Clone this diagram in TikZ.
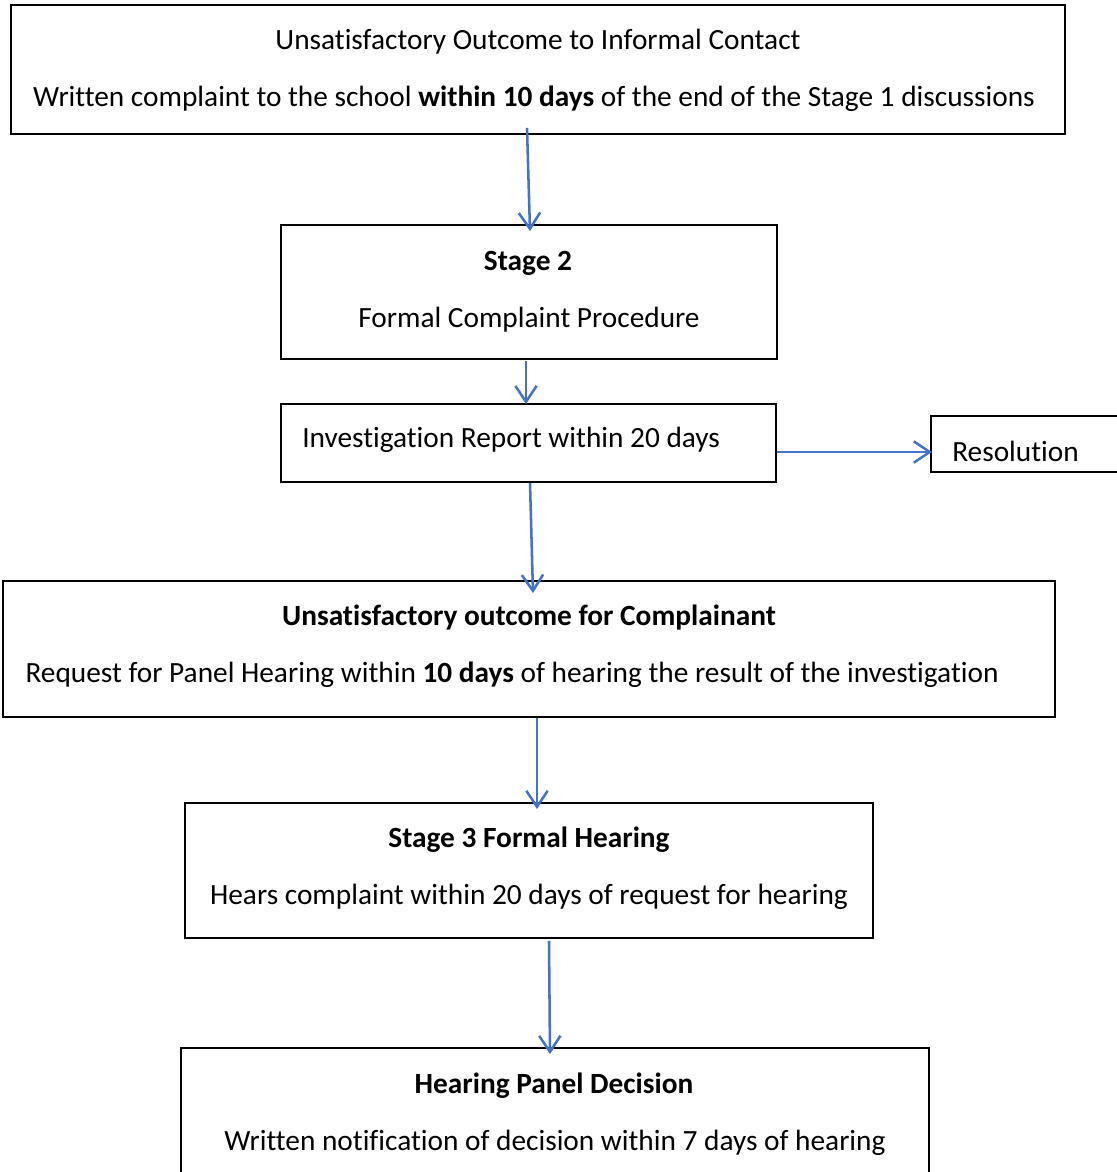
\documentclass[tikz,border=0pt]{standalone}
\usepackage{fontspec}
\setmainfont[Ligatures=NoCommon]{Carlito}
\usetikzlibrary{arrows.meta,calc,fit}
\tikzset{
  box/.style={draw=black, line width=1.4pt, inner sep=0pt},
  arr/.style={draw={rgb,255:red,68;green,114;blue,196}, line width=1.9pt, -{Straight Barb[length=12pt,width=16pt,line width=1.9pt]}},
  txt/.style={anchor=base, inner sep=0pt, font=\fontsize{22}{26}\selectfont},
  btxt/.style={txt, font=\fontsize{22}{26}\selectfont\bfseries}
}
\begin{document}
\begin{tikzpicture}[x=0.75pt, y=-0.75pt]
\clip (0,0) rectangle (1117,1172);
\path[use as bounding box] (0,0) rectangle (1117,1172);
% boxes
\node[box, fit={(11,5) (1065,134)}] (top) {};
\node[box, fit={(281,225) (777,359)}] (stage2) {};
\node[box, fit={(281,404) (776,482)}] (invest) {};
\node[box, fit={(931,416) (1130,472)}] (resol) {};
\node[box, fit={(3,581) (1055,717)}] (unsat) {};
\node[box, fit={(185,803) (873,938)}] (stage3) {};
\node[box, fit={(181,1048) (929,1185)}] (hearing) {};
% texts
\node[txt] (t1a) at (538,49) {Unsatisfactory Outcome to Informal Contact};
\node[txt] (t1b) at (534,106) {Written complaint to the school \textbf{within 10 days} of the end of the Stage 1 discussions};
\node[btxt] (t2a) at (528,270) {Stage 2};
\node[txt] (t2b) at (529,327) {Formal Complaint Procedure};
\node[txt, anchor=base west] (t3) at (302,447) {Investigation Report within 20 days};
\node[txt, anchor=base west] (t4) at (952,461) {Resolution};
\node[btxt] (t5a) at (529,625) {Unsatisfactory outcome for Complainant};
\node[txt] (t5b) at (512,682) {Request for Panel Hearing within \textbf{10 days} of hearing the result of the investigation};
\node[btxt] (t6a) at (529,847) {Stage 3 Formal Hearing};
\node[txt] (t6b) at (529,904) {Hears complaint within 20 days of request for hearing};
\node[btxt] (t7a) at (554,1093) {Hearing Panel Decision};
\node[txt] (t7b) at (555,1150) {Written notification of decision within 7 days of hearing};
% arrows
\draw[arr] ($(top.south)+(-11,-7)$) -- ($(stage2.north)+(1,7)$);
\draw[arr] ($(stage2.south)+(-3,1)$) -- ($(invest.north)+(-2.5,1)$);
\draw[arr] ($(invest.east)+(0,9)$) -- ($(resol.west)+(2,8)$);
\draw[arr] ($(invest.south)+(1.5,0)$) -- ($(unsat.north)+(4,13)$);
\draw[arr] ($(unsat.south)+(8,0)$) -- ($(stage3.north)+(8,7)$);
\draw[arr] ($(stage3.south)+(20,2)$) -- ($(hearing.north)+(-5,7)$);
\end{tikzpicture}
\end{document}
